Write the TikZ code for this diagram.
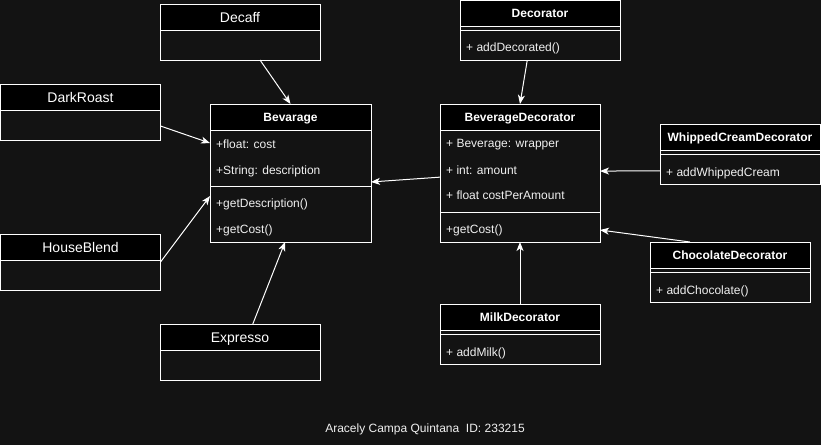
\documentclass[tikz,border=0pt]{standalone}
\usepackage{fontspec}
\setmainfont{Liberation Sans}
\usetikzlibrary{arrows.meta,calc}
\definecolor{bg}{HTML}{131313}
\definecolor{fg}{HTML}{F0F0F0}
\begin{document}
\begin{tikzpicture}[x=1pt,y=-1pt,
  box/.style={draw=white,line width=1pt,fill=bg,inner sep=0pt,outer sep=0pt,minimum width=160pt,anchor=north west},
  head/.style={draw=white,line width=1pt,fill=black,inner sep=0pt,outer sep=0pt,minimum width=160pt,minimum height=26pt,anchor=north west,text=white},
  big/.style={font=\fontsize{14}{16}\selectfont,text height=10.5pt,text depth=0.5pt},
  bold/.style={font=\fontsize{12}{14}\selectfont\bfseries,text height=9pt,text depth=0.5pt},
  attr/.style={anchor=west,inner sep=0pt,text=fg,font=\fontsize{12}{14}\selectfont,text height=9pt,text depth=1pt},
  sep/.style={draw=white,line width=1pt},
  arr/.style={draw=white,line width=1pt,-{Stealth[length=9pt,width=7pt,inset=2.5pt]}}]
\fill[bg] (0,0) rectangle (821,445);
\useasboundingbox (0,0) rectangle (821,445);

% Decaff
\node[box,minimum height=56pt] (decaff) at (160,4) {};
\node[head,big] (decaffh) at (160,4) {Decaff};
% DarkRoast
\node[box,minimum height=56pt] (dark) at (0.5,84) {};
\node[head,big] (darkh) at (0.5,84) {DarkRoast};
% HouseBlend
\node[box,minimum height=56pt] (house) at (0.5,234) {};
\node[head,big] (househ) at (0.5,234) {HouseBlend};
% Expresso
\node[box,minimum height=56pt] (expr) at (160,324) {};
\node[head,big] (exprh) at (160,324) {Expresso};

% Bevarage
\node[box,minimum width=161pt,minimum height=138pt] (bev) at (210,104) {};
\node[head,bold,minimum width=161pt] (bevh) at (210,104) {Bevarage};
\draw[sep] (210,186) -- (371,186);
\node[attr] (b1) at (216,144) {+float: cost};
\node[attr] (b2) at (216,170) {+String: description};
\node[attr] (b3) at (216,203) {+getDescription()};
\node[attr] (b4) at (216,229) {+getCost()};

% Decorator
\node[box,minimum height=60pt] (dec) at (460,0.5) {};
\node[head,bold] (dech) at (460,0.5) {Decorator};
\draw[sep] (460,30) -- (620,30);
\node[attr] (d1) at (466,47) {+ addDecorated()};

% BeverageDecorator
\node[box,minimum height=138pt] (bd) at (440,104) {};
\node[head,bold] (bdh) at (440,104) {BeverageDecorator};
\draw[sep] (440,212) -- (600,212);
\node[attr] (bd1) at (446,143) {+ Beverage: wrapper};
\node[attr] (bd2) at (446,170) {+ int: amount};
\node[attr] (bd3) at (446,195) {+ float costPerAmount};
\node[attr] (bd4) at (446,229) {+getCost()};

% WhippedCreamDecorator
\node[box,minimum height=60pt] (wc) at (660,124) {};
\node[head,bold] (wch) at (660,124) {WhippedCreamDecorator};
\draw[sep] (660,154) -- (820,154);
\node[attr] (wc1) at (666,172) {+ addWhippedCream};

% ChocolateDecorator
\node[box,minimum height=60pt] (ch) at (650,242) {};
\node[head,bold] (chh) at (650,242) {ChocolateDecorator};
\draw[sep] (650,272) -- (810,272);
\node[attr] (ch1) at (656,290) {+ addChocolate()};

% MilkDecorator
\node[box,minimum height=60pt] (mk) at (440,304) {};
\node[head,bold] (mkh) at (440,304) {MilkDecorator};
\draw[sep] (440,334) -- (600,334);
\node[attr] (mk1) at (446,352) {+ addMilk()};

% footer
\node[text=fg,font=\fontsize{12}{14}\selectfont,text height=9pt,text depth=1pt] (foot) at (425,428) {Aracely Campa Quintana\ \ ID: 233215};

% connectors
\draw[arr] ($(decaff.south west)!0.625!(decaff.south east)$) -- ($(bev.north west)!0.5!(bev.north east)$);
\draw[arr] ($(dark.north east)!0.75!(dark.south east)$) -- ($(bev.north west)!0.283!(bev.south west)$);
\draw[arr] ($(house.north east)!0.5!(house.south east)$) -- ($(bev.north west)!0.667!(bev.south west)$);
\draw[arr] ($(expr.north west)!0.58!(expr.north east)$) -- ($(bev.south west)!0.466!(bev.south east)$);
\draw[arr] ($(bd.north west)!0.53!(bd.south west)$) -- ($(bev.north east)!0.565!(bev.south east)$);
\draw[arr] ($(dec.south west)!0.42!(dec.south east)$) -- ($(bd.north west)!0.5!(bd.north east)$);
\draw[arr] ($(wc.north west)!0.78!(wc.south west)$) -- ($(bd.north east)!0.486!(bd.south east)$);
\draw[arr] ($(ch.north west)!0.25!(ch.north east)$) -- ($(bd.north east)!0.913!(bd.south east)$);
\draw[arr] ($(mk.north west)!0.5!(mk.north east)$) -- ($(bd.south west)!0.5!(bd.south east)$);
\end{tikzpicture}
\end{document}
